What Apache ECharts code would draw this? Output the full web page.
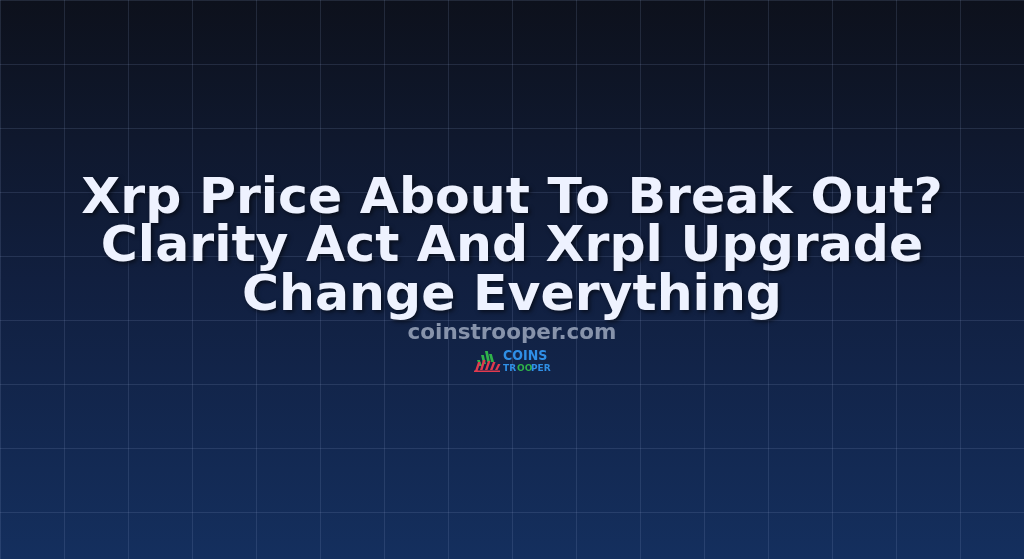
<!DOCTYPE html>
<html><head><meta charset="utf-8">
<script src="https://cdn.jsdelivr.net/npm/echarts@6/dist/echarts.min.js"></script>
<style>html,body{margin:0;padding:0;background:#0d111c}#c{width:1024px;height:559px}</style>
</head><body><div id="c"></div>
<script>
const titleLines = ["Xrp Price About To Break Out?", "Clarity Act And Xrpl Upgrade", "Change Everything"];
const siteName = "coinstrooper.com";
const logoTop = "COINS";
const logoBottom = ["TR", "OO", "PER"];
const gridStep = 64;

const chart = echarts.init(document.getElementById('c'), null, {renderer: 'canvas'});
const lineStyle = {color: 'rgba(150,170,210,0.16)', width: 1};
const titleStyle = {
  fontFamily: 'DejaVu Sans', fontWeight: 'bold', fontSize: 50.5,
  color: '#eef2ff',
  textShadowColor: 'rgba(0,0,0,0.55)', textShadowBlur: 4, textShadowOffsetX: 2, textShadowOffsetY: 2
};
const titles = titleLines.map((t, i) => ({
  text: t, left: 'center', top: 169 + i * 48.5, textStyle: titleStyle
}));
titles.push({
  text: siteName, left: 'center', top: 317,
  textStyle: {fontFamily: 'DejaVu Sans', fontWeight: 'bold', fontSize: 21.5, color: '#8793ab'}
});

const green = '#2fb34a', red = '#e23a4e', blue = '#2f8fe6';
const icon = [];
// green stripes forming a rising triangle
[[3,11,6],[7,6,9],[11,2,11],[15,5,8]].forEach(([x, top, len]) => {
  icon.push({type: 'polygon', shape: {points: [[x, top], [x + 2.8, top], [x + 5, top + len], [x + 2.2, top + len]]}, style: {fill: green}});
});
// red stripes
[[1,13,9],[6,11,10],[11,12,9],[16,13,8],[21,15,6]].forEach(([x, top, len]) => {
  icon.push({type: 'polygon', shape: {points: [[x, top + len], [x + 3, top], [x + 5.5, top], [x + 2.5, top + len]]}, style: {fill: red}});
});
icon.push({type: 'rect', shape: {x: 0, y: 21.5, width: 26, height: 1.5}, style: {fill: red}});

chart.setOption({
  backgroundColor: {
    type: 'linear', x: 0, y: 0, x2: 0, y2: 1,
    colorStops: [{offset: 0, color: '#0d111c'}, {offset: 0.5, color: '#111f3f'}, {offset: 1, color: '#142f5e'}]
  },
  animation: false,
  grid: {left: 0, right: 0, top: 0, bottom: 0},
  xAxis: {type: 'value', min: 0, max: 1024, interval: gridStep,
    axisLine: {show: false}, axisTick: {show: false}, axisLabel: {show: false},
    splitLine: {show: true, lineStyle: lineStyle}},
  yAxis: {type: 'value', min: 0, max: 559, interval: gridStep, inverse: true,
    axisLine: {show: false}, axisTick: {show: false}, axisLabel: {show: false},
    splitLine: {show: true, lineStyle: lineStyle}},
  title: titles,
  graphic: [
    {type: 'group', x: 474, y: 349, children: icon.concat([
      {type: 'text', x: 29, y: 0, style: {text: logoTop, font: 'bold 14px "DejaVu Sans Condensed"', fill: blue}},
      {type: 'text', x: 29, y: 15, style: {text: logoBottom[0], font: 'bold 9px "DejaVu Sans"', fill: blue}},
      {type: 'text', x: 43, y: 15, style: {text: logoBottom[1], font: 'bold 9px "DejaVu Sans"', fill: green}},
      {type: 'text', x: 57, y: 15, style: {text: logoBottom[2], font: 'bold 9px "DejaVu Sans"', fill: blue}}
    ])}
  ]
});
</script></body></html>
